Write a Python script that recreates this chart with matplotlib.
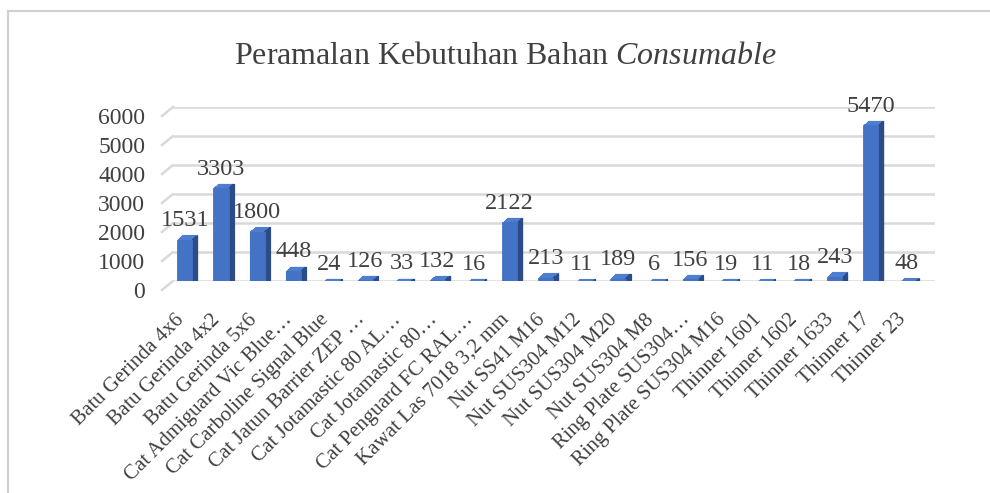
import matplotlib
matplotlib.use("Agg")
import matplotlib.pyplot as plt
import matplotlib.transforms as mtransforms
from matplotlib.lines import Line2D

categories = ["Batu Gerinda 4x6", "Batu Gerinda 4x2", "Batu Gerinda 5x6",
              "Cat Admiguard Vic Blue…", "Cat Carboline Signal Blue",
              "Cat Jatun Barrier ZEP …", "Cat Jotamastic 80 AL…",
              "Cat Jotamastic 80…", "Cat Penguard FC RAL…",
              "Kawat Las 7018 3,2 mm", "Nut SS41 M16", "Nut SUS304 M12",
              "Nut SUS304 M20", "Nut SUS304 M8", "Ring Plate SUS304…",
              "Ring Plate SUS304 M16", "Thinner 1601", "Thinner 1602",
              "Thinner 1633", "Thinner 17", "Thinner 23"]
values = [1531, 3303, 1800, 448, 24, 126, 33, 132, 16, 2122, 213, 11, 189,
          6, 156, 19, 11, 18, 243, 5470, 48]
yticks = [0, 1000, 2000, 3000, 4000, 5000, 6000]
title_plain = "Peramalan Kebutuhan Bahan "
title_italic = "Consumable"

plt.rcParams['font.family'] = ['Liberation Serif', 'DejaVu Serif']
plt.rcParams['mathtext.fontset'] = 'custom'
plt.rcParams['mathtext.rm'] = 'Liberation Serif'
plt.rcParams['mathtext.it'] = 'Liberation Serif:italic'

TXT = '#404040'
FRONT = '#4472C4'
SIDE = '#2B4C86'
TOPC = '#4F7DD0'
GRID = '#D9D9D9'

W, H = 990, 493
fig = plt.figure(figsize=(W / 100, H / 100), dpi=100)
fig.patch.set_facecolor('white')

# outer frame (top and left visible)
fig.add_artist(Line2D([8 / W, 8 / W], [0, 1 - 11 / H], color='#D0D0D0', lw=1.5,
                      transform=fig.transFigure))
fig.add_artist(Line2D([8 / W, 1], [1 - 11 / H, 1 - 11 / H], color='#D0D0D0', lw=1.5,
                      transform=fig.transFigure))

left_px, right_px = 173, 935
bot_px, top_px = 281, 107
ax = fig.add_axes([left_px / W, 1 - bot_px / H, (right_px - left_px) / W,
                   (bot_px - top_px) / H])
ax.set_xlim(-0.33, len(categories) - 1 + 0.78)
ax.set_ylim(0, 6000)
for s in ax.spines.values():
    s.set_visible(False)

x = list(range(len(categories)))
for t in yticks:
    ax.axhline(t, color=GRID, lw=1.8, zorder=0)
fig.canvas.draw()
# slanted grid segments (3D side wall)
tr = mtransforms.blended_transform_factory(ax.transAxes, ax.transData)
for t in yticks:
    p0 = tr.transform((0, t))
    p1 = p0 + [-11, -9]
    fig.add_artist(Line2D([p1[0] / W, p0[0] / W], [p1[1] / H, p0[1] / H],
                          color=GRID, lw=1.8, transform=fig.transFigure, zorder=0))

bw = 0.42
edge_w = 0.02
front_shift = -3  # px: front plane sits slightly below the back wall
depth_steps = [0.5 * i for i in range(1, 11)]
for k in depth_steps:
    off = mtransforms.ScaledTranslation(k / 100, (0.9 * k + front_shift) / 100,
                                        fig.dpi_scale_trans)
    ax.bar(x, values, width=bw, color=TOPC, edgecolor=TOPC, linewidth=0.8,
           transform=ax.transData + off, zorder=1)
    ax.bar([xi + bw / 2 - edge_w / 2 for xi in x], values, width=edge_w,
           color=SIDE, edgecolor=SIDE, linewidth=0.8,
           transform=ax.transData + off, zorder=2)
foff = mtransforms.ScaledTranslation(0, front_shift / 100, fig.dpi_scale_trans)
ax.bar(x, values, width=bw, color=FRONT, edgecolor=FRONT, linewidth=0.6,
       transform=ax.transData + foff, zorder=3)

for xi, v in zip(x, values):
    ax.annotate(f"{v}", (xi, v), xytext=(0, 4), textcoords='offset points',
                ha='center', va='bottom', fontsize=17.5, color=TXT)

ax.set_yticks(yticks)
ax.set_yticklabels([str(t) for t in yticks], fontsize=17, color=TXT)
ax.tick_params(axis='y', length=0, pad=20)
ytoff = mtransforms.ScaledTranslation(0, -9 / 100, fig.dpi_scale_trans)
for lab in ax.get_yticklabels():
    lab.set_transform(lab.get_transform() + ytoff)

ax.set_xticks(x)
ax.set_xticklabels(categories, rotation=45, ha='right', rotation_mode='anchor',
                   fontsize=15, color=TXT)
ax.tick_params(axis='x', length=0, pad=21)
xtoff = mtransforms.ScaledTranslation(-10 / 100, 0, fig.dpi_scale_trans)
for lab in ax.get_xticklabels():
    lab.set_transform(lab.get_transform() + xtoff)

fig.text(505 / W, 1 - 56 / H, title_plain + r"$\mathit{" + title_italic + "}$",
         ha='center', va='center', fontsize=23, color=TXT)

fig.savefig('out.png', dpi=100, facecolor='white')
